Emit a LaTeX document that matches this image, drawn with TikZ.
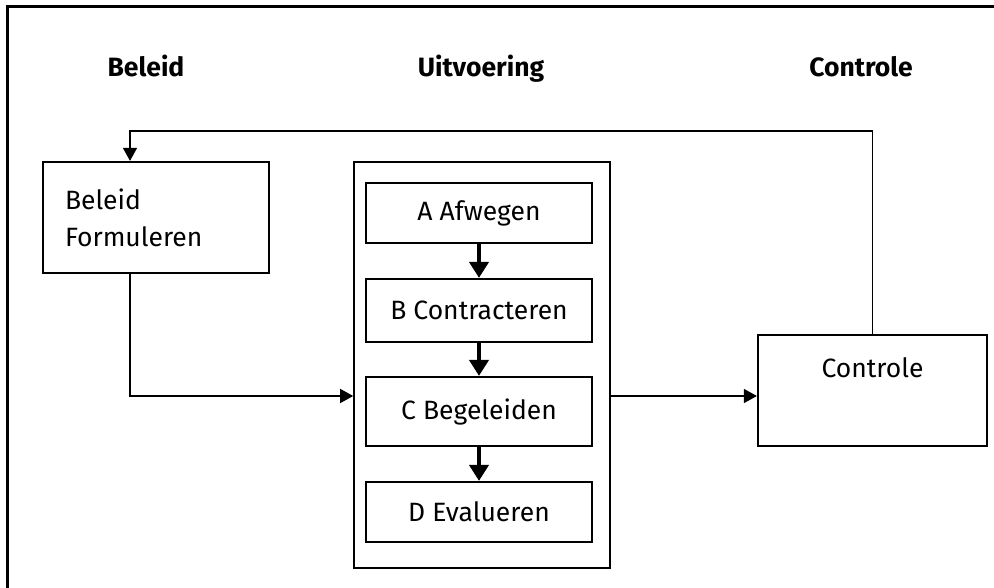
\documentclass[tikz,border=0pt]{standalone}
\usepackage{fontspec}
\setmainfont{Fira Sans}
\usetikzlibrary{arrows.meta}

\newcommand\diafont{\fontsize{26.5}{37}\selectfont}

\tikzset{
  box/.style={draw, line width=2.2pt, inner sep=0pt},
  stepbox/.style={box, minimum width=226pt},
  head/.style={font=\diafont\bfseries, anchor=base},
  flow/.style={line width=1.4pt, -{Triangle[length=13pt, width=14pt]}},
  bigflow/.style={line width=4.5pt, -{Triangle[length=16pt, width=19pt]}}
}

\begin{document}
\begin{tikzpicture}[x=1pt, y=-1pt, font=\diafont]
        \useasboundingbox (0,0) rectangle (994,588);
        % frame
        \draw[line width=3pt] (7.5,590) -- (7.5,7) -- (996,7);

        % names
        \node[head] (hbeleid) at (146,77) {Beleid};
        \node[head] (huitv) at (481,77) {Uitvoering};
        \node[head] (hcontrole) at (861,77) {Controle};

        % beleid
        \node[box, minimum width=226pt, minimum height=111pt, inner xsep=22pt,
              text width=182pt, align=left] (beleid) at (156,217.5) {Beleid\\Formuleren};

        % uitvoering
        \node[draw, line width=1.6pt, minimum width=256pt, minimum height=406pt] (uitv) at (482,365) {};
        \node[stepbox, minimum height=60pt] (A) at (479,213) {A Afwegen};
        \node[stepbox, minimum height=63pt] (B) at (479,310.5) {B Contracteren};
        \node[stepbox, minimum height=69pt] (C) at (479,411.5) {C Begeleiden};
        \node[stepbox, minimum height=60pt] (D) at (479,512) {D Evalueren};

        % controle
        \node[box, minimum width=229pt, text height=42pt, text depth=69pt] (controle) at (872.5,390.5) {Controle};

        % map
        \coordinate (fb) at (130,131);
        \coordinate (in) at (130,396);
        \draw[flow] (controle.north) |- (fb) -- (fb |- beleid.north);
        \draw[flow] (beleid.south -| in) -- (in) -- (uitv.west |- in);
        \draw[flow] (uitv.east |- in) -- (controle.west |- in);
        \draw[bigflow] (A) -- (B);
        \draw[bigflow] (B) -- (C);
        \draw[bigflow] (C) -- (D);

    \end{tikzpicture}
\end{document}
